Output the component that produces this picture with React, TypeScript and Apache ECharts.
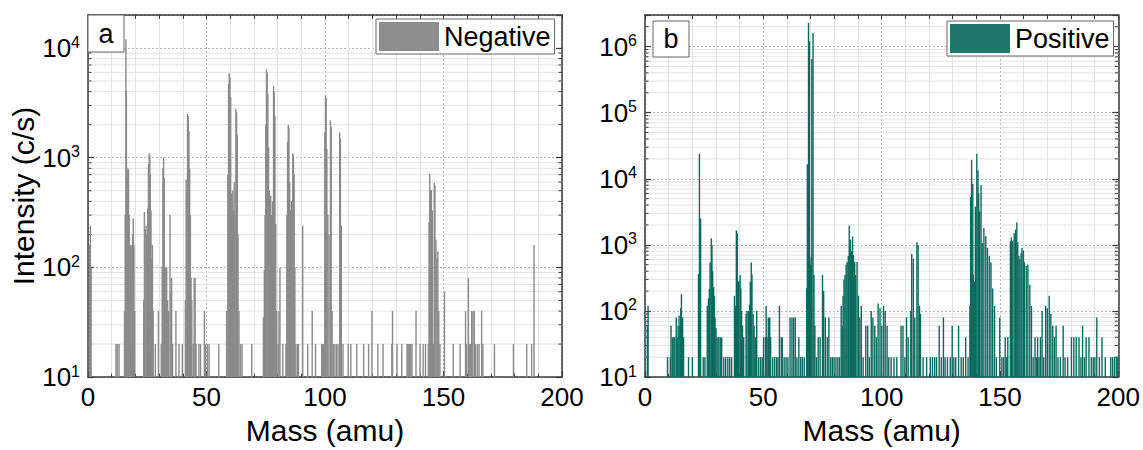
import React, { useEffect, useRef } from "react";
import * as echarts from "echarts";

// ---------- data ----------
const massTicks = [0, 50, 100, 150, 200];
const negativeRange = [10, 20000];
const positiveRange = [10, 3000000];
const seriesNames = ["Negative", "Positive"];
const panelLabels = ["a", "b"];

// [mass (amu), intensity (c/s)]
const negativeSpectrum: [number, number][] = [
  [0.6, 160], [1.0, 240], [1.3, 100],
  [11.8, 20], [12.4, 20], [13.1, 20],
  [15.4, 40], [15.7, 300], [16.0, 12000], [16.2, 4100], [16.5, 650], [16.8, 800], [17.1, 780], [17.4, 300], [17.7, 50],
  [18.0, 160], [18.2, 20], [18.5, 160], [18.8, 200], [19.1, 280], [19.4, 160], [19.7, 40],
  [23.5, 50], [23.8, 320], [24.1, 220], [24.5, 240], [24.8, 200], [25.2, 345], [25.5, 870], [25.8, 1100], [26.1, 1050],
  [26.3, 700], [26.6, 330], [26.9, 120], [27.2, 160], [27.5, 40],
  [28.4, 20], [29.7, 40],
  [30.9, 20], [31.3, 100], [31.6, 800], [31.9, 1000], [32.2, 650], [32.6, 100], [33.2, 100], [33.6, 50], [34.0, 40],
  [34.6, 300], [35.0, 60], [35.3, 80], [35.7, 20], [37.1, 40], [38.4, 20],
  [39.8, 20], [41.1, 50], [41.4, 630], [41.7, 480], [42.0, 2500], [42.3, 2400], [42.6, 1750], [42.9, 800], [43.2, 300],
  [43.5, 80], [43.8, 50], [44.4, 20], [44.8, 80], [45.2, 80], [45.6, 20],
  [46.8, 20], [47.5, 20], [49.1, 40], [49.6, 20], [50.4, 20], [51.1, 20],
  [55.2, 20], [58.5, 40], [59.0, 700], [59.3, 4700], [59.6, 5900], [59.9, 5400], [60.2, 3600], [60.5, 470], [60.8, 400],
  [61.1, 500], [61.4, 330], [61.7, 600], [62.0, 300], [62.4, 2800], [62.7, 2600], [63.0, 1600], [63.3, 200], [63.7, 40],
  [64.3, 20], [65.0, 20], [69.1, 20],
  [74.0, 35], [74.4, 95], [74.7, 300], [75.0, 2000], [75.3, 6400], [75.6, 6000], [75.9, 3800], [76.2, 1240], [76.5, 500],
  [76.8, 300], [77.1, 450], [77.5, 300], [77.9, 400], [78.3, 4500], [78.6, 4000], [78.9, 2400], [79.2, 250], [79.6, 40],
  [80.2, 20], [80.6, 40], [81.0, 100], [82.2, 20], [83.5, 20],
  [83.9, 300], [84.2, 1400], [84.5, 2000], [84.8, 1900], [85.1, 600], [85.4, 330], [85.8, 400], [86.4, 1100], [86.7, 1050],
  [87.0, 700], [87.3, 100], [87.7, 20], [88.4, 20], [88.8, 20],
  [90.6, 240], [92.7, 20], [94.6, 40], [96.0, 20],
  [98.6, 20], [99.0, 20], [99.4, 20], [99.9, 1700], [100.2, 3700], [100.5, 3500], [100.8, 1200], [101.2, 300], [101.7, 200],
  [102.3, 2200], [102.6, 1900], [103.0, 40], [103.5, 20], [104.2, 20], [104.9, 20], [105.5, 20], [106.2, 1700], [106.5, 1500],
  [106.9, 240], [107.6, 20],
  [109.8, 20], [110.9, 20], [113.4, 20], [116.3, 20], [118.4, 20], [119.8, 40], [122.3, 20], [124.5, 20], [128.2, 20], [128.5, 40],
  [130.4, 20], [132.4, 20], [134.6, 20], [135.0, 20], [135.4, 20], [135.8, 20], [136.2, 20], [136.7, 20], [138.4, 40], [140.1, 20],
  [141.4, 20], [142.4, 20], [143.6, 20], [143.9, 260], [144.2, 710], [144.5, 500], [144.9, 510], [145.3, 330], [145.7, 20],
  [146.1, 590], [146.4, 560], [146.8, 180], [147.2, 120], [147.6, 140], [148.0, 40], [148.5, 20], [150.4, 60],
  [154.1, 20], [157.0, 20], [159.3, 40], [159.7, 20], [160.5, 80], [161.0, 20], [161.5, 20], [161.9, 40], [162.4, 40],
  [163.0, 40], [163.5, 20], [164.3, 20], [165.0, 20], [166.1, 40], [166.6, 20], [171.5, 20], [179.5, 20], [185.1, 20],
  [187.2, 20], [188.2, 160],
];

const positiveSpectrum: [number, number][] = [
  [1.0, 60], [1.3, 120],
  [9.5, 20], [10.7, 20], [11.0, 60], [11.6, 40], [12.2, 40], [12.6, 40], [13.2, 80], [13.6, 40], [14.0, 60], [14.4, 85],
  [14.8, 60], [15.1, 110], [15.4, 180], [15.9, 80], [16.3, 40], [18.4, 20], [20.0, 20],
  [22.6, 360], [23.0, 24000], [23.5, 2500], [24.6, 20], [25.3, 20],
  [26.3, 120], [26.8, 155], [27.2, 216], [27.5, 540], [28.0, 1260], [28.3, 1000], [28.6, 400], [29.0, 230], [29.3, 170],
  [29.6, 80], [30.0, 55], [30.5, 40], [31.2, 40], [31.8, 40], [32.4, 40], [33.3, 20], [34.1, 20], [35.0, 20], [35.8, 20], [36.6, 20],
  [37.8, 170], [38.2, 120], [38.6, 1660], [39.0, 1500], [39.4, 280], [39.7, 280], [40.2, 350], [40.5, 220], [40.8, 100],
  [41.2, 60], [41.7, 40],
  [42.7, 90], [43.1, 100], [43.7, 100], [44.2, 125], [44.5, 280], [44.9, 540], [45.2, 360], [45.7, 90], [46.1, 60], [46.6, 40],
  [47.2, 100], [48.0, 20], [48.8, 20], [49.5, 20],
  [50.1, 40], [50.9, 40], [51.2, 120], [51.6, 40], [52.1, 80], [52.7, 80], [53.1, 40], [54.0, 20], [54.8, 20], [55.6, 20], [56.2, 20],
  [56.8, 120], [57.6, 40], [58.0, 40], [58.8, 20], [59.6, 20], [60.4, 20], [61.3, 80], [62.1, 80], [62.8, 80], [63.5, 80],
  [64.2, 20], [65.0, 40], [65.8, 20], [66.5, 20], [67.3, 20],
  [68.3, 220], [68.6, 16500], [69.1, 2300000], [69.5, 1200000], [69.9, 500], [70.2, 650], [70.5, 650000], [71.0, 1600000],
  [71.4, 350], [71.8, 60],
  [72.5, 20], [73.2, 40], [74.0, 40], [75.0, 350], [75.5, 200], [76.2, 80], [77.0, 40], [77.7, 80], [78.5, 20], [79.2, 20],
  [79.9, 20], [80.7, 20], [81.5, 20], [82.2, 20],
  [82.9, 120], [83.3, 60], [83.7, 170], [84.1, 300], [84.5, 350], [85.0, 500], [85.4, 550], [85.9, 680], [86.3, 1950],
  [86.8, 1200], [87.2, 800], [87.7, 1340], [88.1, 700], [88.6, 550], [89.0, 350], [89.6, 550], [90.2, 170], [90.8, 80],
  [91.4, 120], [92.2, 20],
  [93.3, 60], [94.1, 60], [94.8, 20], [95.6, 100], [96.3, 80], [97.1, 60], [97.8, 40], [98.5, 130], [99.3, 110], [100.0, 60],
  [100.8, 120], [101.5, 100], [102.3, 60], [103.0, 20], [104.0, 20], [105.2, 20], [106.4, 20],
  [108.2, 60], [109.0, 60], [109.8, 20], [110.5, 80], [111.2, 40], [112.3, 100], [112.7, 730], [113.4, 620], [114.0, 80],
  [114.9, 1100], [115.4, 1000], [116.0, 120], [116.4, 90], [117.5, 20],
  [119.0, 20], [120.6, 20], [121.5, 20], [122.4, 20], [123.2, 20], [124.3, 60], [125.2, 20], [126.1, 80], [126.8, 20],
  [127.8, 20], [129.0, 20], [129.8, 60], [130.5, 20], [131.3, 20], [132.5, 60], [133.6, 20], [134.5, 20], [135.5, 40], [136.5, 20],
  [137.3, 120], [137.6, 5300], [138.0, 19300], [138.5, 8300], [138.7, 350], [139.2, 280], [139.6, 3800], [140.2, 24000],
  [140.7, 13500], [141.0, 6000], [141.4, 3200], [142.0, 8000], [142.5, 1070], [143.2, 1800], [144.0, 1350], [144.7, 900],
  [145.5, 680], [146.2, 540], [146.9, 220], [147.7, 120], [148.5, 20],
  [149.9, 80], [150.8, 20], [151.5, 20], [152.2, 40], [152.8, 20], [153.3, 40],
  [154.4, 1130], [154.8, 1300], [155.4, 1150], [156.0, 1500], [156.6, 1700], [157.1, 2200], [157.5, 1100], [158.0, 680],
  [158.4, 600], [158.9, 750], [159.3, 900], [159.9, 820], [160.3, 550], [161.1, 480], [161.8, 500], [162.6, 250], [163.3, 120],
  [164.0, 20],
  [164.8, 40], [165.4, 20], [165.9, 40], [166.5, 20], [167.1, 40], [167.8, 100], [168.5, 20], [169.3, 120], [170.0, 110],
  [170.8, 170], [171.5, 90], [172.3, 60], [173.0, 40], [173.7, 60], [174.5, 20], [175.5, 20], [176.7, 60], [177.5, 20], [178.6, 20],
  [180.2, 40], [181.2, 40], [182.2, 40], [183.4, 40], [184.2, 20], [184.9, 60], [185.7, 20], [186.4, 40], [187.6, 40],
  [188.6, 20], [189.4, 20], [190.1, 20], [190.9, 80], [192.0, 20], [193.1, 40], [194.5, 20], [196.8, 20], [197.6, 20],
  [198.4, 20], [199.2, 20], [199.8, 20],
];

// ---------- styling ----------
const FONT = "'Liberation Sans', Arial, Helvetica, sans-serif";
const FRAME = "#3a3a3a";
const NEG_COLOR = "#8a8a8a";
const POS_COLOR = "#0b6a5e";
const NEG_SWATCH = "#8e8e8e";
const POS_SWATCH = "#1f776c";

function minorLevels(max: number): [number, number][] {
  const out: [number, number][] = [];
  for (let d = 10; d < max; d *= 10) {
    for (let k = 2; k <= 9; k++) {
      const v = k * d;
      if (v < max) out.push([0, v]);
    }
  }
  return out;
}

const logLabel = (v: number) => {
  const e = Math.log10(v);
  if (Math.abs(e - Math.round(e)) > 0.01) return "";
  return `{b|10}{s|${Math.round(e)}}`;
};

export default function App() {
  const ref = useRef<HTMLDivElement>(null);

  useEffect(() => {
    document.body.style.margin = "0";
    if (!ref.current) return;
    const chart = echarts.init(ref.current, undefined, { renderer: "svg" });

    const grids = [
      { left: 88, top: 15, width: 474, height: 368 },
      { left: 645, top: 15, width: 474, height: 368 },
    ];
    const ranges = [negativeRange, positiveRange];

    const xAxes: any[] = [];
    const yAxes: any[] = [];
    grids.forEach((_, i) => {
      xAxes.push({
        gridIndex: i,
        type: "value",
        min: massTicks[0],
        max: massTicks[massTicks.length - 1],
        interval: 50,
        position: "bottom",
        axisLine: { show: true, onZero: false, lineStyle: { color: FRAME, width: 1.5 } },
        axisTick: { show: true, inside: true, length: 6, lineStyle: { color: FRAME, width: 1.2 } },
        minorTick: { show: true, splitNumber: 5, length: 3.5, lineStyle: { color: FRAME } },
        splitLine: { show: true, lineStyle: { color: "#b4b4b4", type: [2, 2], width: 1 } },
        minorSplitLine: { show: true, lineStyle: { color: "#e3e3e3", width: 1 } },
        axisLabel: { fontSize: 26, color: "#000", margin: 7, fontFamily: FONT },
        name: "Mass (amu)",
        nameLocation: "middle",
        nameGap: 37,
        nameTextStyle: { fontSize: 30, color: "#000", fontFamily: FONT },
      });
      xAxes.push({
        gridIndex: i,
        type: "value",
        min: massTicks[0],
        max: massTicks[massTicks.length - 1],
        interval: 50,
        position: "top",
        axisLine: { show: true, onZero: false, lineStyle: { color: FRAME, width: 1.5 } },
        axisTick: { show: true, inside: true, length: 4, lineStyle: { color: FRAME } },
        minorTick: { show: true, splitNumber: 5, length: 4, lineStyle: { color: FRAME } },
        splitLine: { show: false },
        axisLabel: { show: false },
      });
      yAxes.push({
        gridIndex: i,
        type: "log",
        logBase: 10,
        min: ranges[i][0],
        max: ranges[i][1],
        position: "left",
        axisLine: { show: true, onZero: false, lineStyle: { color: FRAME, width: 1.5 } },
        axisTick: { show: true, inside: true, length: 6, lineStyle: { color: FRAME, width: 1.2 } },
        splitLine: { show: true, lineStyle: { color: "#b4b4b4", type: [2, 2], width: 1 } },
        axisLabel: {
          formatter: logLabel,
          margin: 8,
          color: "#000",
          rich: {
            b: { fontSize: 26, fontFamily: FONT, color: "#000", lineHeight: 28 },
            s: { fontSize: 16, fontFamily: FONT, color: "#000", lineHeight: 16, verticalAlign: "top", padding: [0, 0, 18, 0] },
          },
        },
        name: i === 0 ? "Intensity (c/s)" : "",
        nameLocation: "middle",
        nameGap: 48,
        nameTextStyle: { fontSize: 30, color: "#000", fontFamily: FONT },
      });
      yAxes.push({
        gridIndex: i,
        type: "log",
        logBase: 10,
        min: ranges[i][0],
        max: ranges[i][1],
        position: "right",
        axisLine: { show: true, onZero: false, lineStyle: { color: FRAME, width: 1.5 } },
        axisTick: { show: true, inside: true, length: 6, lineStyle: { color: FRAME, width: 1.2 } },
        splitLine: { show: false },
        axisLabel: { show: false },
      });
    });

    const minorRender = (params: any, api: any) => {
      const v = api.value(1);
      const a = api.coord([massTicks[0], v]);
      const b = api.coord([massTicks[massTicks.length - 1], v]);
      return {
        type: "group",
        children: [
          { type: "line", shape: { x1: a[0], y1: a[1], x2: b[0], y2: b[1] }, style: { stroke: "#e3e3e3", lineWidth: 1 } },
          { type: "line", shape: { x1: a[0], y1: a[1], x2: a[0] + 3.5, y2: a[1] }, style: { stroke: FRAME, lineWidth: 1 } },
          { type: "line", shape: { x1: b[0] - 3.5, y1: b[1], x2: b[0], y2: b[1] }, style: { stroke: FRAME, lineWidth: 1 } },
        ],
      };
    };

    const barRender = (color: string, base: number) => (params: any, api: any) => {
      const m = api.value(0);
      const v = api.value(1);
      const top = api.coord([m, v]);
      const bot = api.coord([m, base]);
      return {
        type: "rect",
        shape: { x: top[0] - 0.7, y: top[1], width: 1.4, height: bot[1] - top[1] },
        style: { fill: color },
      };
    };

    const legendBase = {
      icon: "rect",
      itemWidth: 60,
      itemHeight: 29,
      padding: [3, 4, 3, 3],
      borderColor: "#666",
      borderWidth: 1,
      borderRadius: 0,
      backgroundColor: "#fff",
      selectedMode: false,
      textStyle: { fontSize: 27, color: "#000", fontFamily: FONT },
      z: 20,
    };

    const option: any = {
      animation: false,
      textStyle: { fontFamily: FONT },
      grid: grids,
      xAxis: xAxes,
      yAxis: yAxes,
      legend: [
        { ...legendBase, data: [{ name: seriesNames[0], itemStyle: { color: NEG_SWATCH } }], left: 376, top: 19 },
        { ...legendBase, data: [{ name: seriesNames[1], itemStyle: { color: POS_SWATCH } }], left: 947, top: 21 },
      ],
      graphic: [
        { type: "rect", z: 50, shape: { x: 88, y: 15, width: 36, height: 37 }, style: { fill: "#fff", stroke: "#666", lineWidth: 1 } },
        { type: "text", z: 51, x: 106, y: 34, style: { text: panelLabels[0], fontSize: 27, fill: "#000", align: "center", verticalAlign: "middle", fontFamily: FONT } },
        { type: "rect", z: 50, shape: { x: 653, y: 21, width: 36, height: 36 }, style: { fill: "#fff", stroke: "#666", lineWidth: 1 } },
        { type: "text", z: 51, x: 671, y: 39, style: { text: panelLabels[1], fontSize: 27, fill: "#000", align: "center", verticalAlign: "middle", fontFamily: FONT } },
      ],
      series: [
        {
          type: "custom",
          name: "minorGridA",
          xAxisIndex: 0,
          yAxisIndex: 0,
          z: 1,
          silent: true,
          data: minorLevels(negativeRange[1]),
          renderItem: minorRender,
        },
        {
          type: "custom",
          name: "minorGridB",
          xAxisIndex: 2,
          yAxisIndex: 2,
          z: 1,
          silent: true,
          data: minorLevels(positiveRange[1]),
          renderItem: minorRender,
        },
        {
          type: "custom",
          name: seriesNames[0],
          xAxisIndex: 0,
          yAxisIndex: 0,
          z: 3,
          clip: true,
          itemStyle: { color: NEG_SWATCH },
          data: negativeSpectrum,
          encode: { x: 0, y: 1 },
          renderItem: barRender(NEG_COLOR, negativeRange[0]),
        },
        {
          type: "custom",
          name: seriesNames[1],
          xAxisIndex: 2,
          yAxisIndex: 2,
          z: 3,
          clip: true,
          itemStyle: { color: POS_SWATCH },
          data: positiveSpectrum,
          encode: { x: 0, y: 1 },
          renderItem: barRender(POS_COLOR, positiveRange[0]),
        },
      ],
    };

    chart.setOption(option);
    return () => chart.dispose();
  }, []);

  return <div ref={ref} style={{ width: 1143, height: 450 }} />;
}
